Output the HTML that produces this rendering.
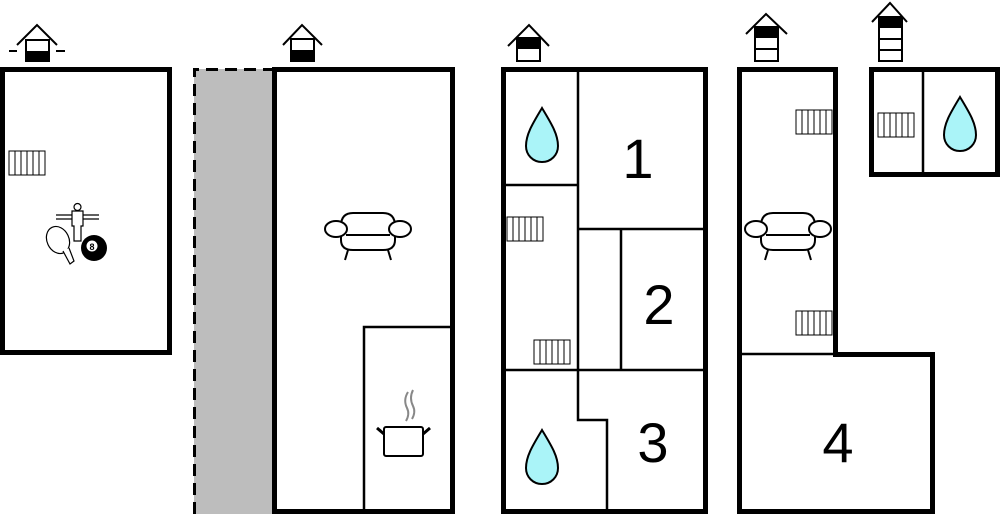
<!DOCTYPE html>
<html><head><style>html,body{margin:0;padding:0;background:#fff}svg{display:block}</style></head><body>
<svg width="1000" height="520" viewBox="0 0 1000 520" xmlns="http://www.w3.org/2000/svg" font-family="Liberation Sans, sans-serif">
<defs>
<g id="rad"><rect x="0" y="0" width="36" height="24" fill="#fff" stroke="#000" stroke-width="1"/><path d="M6 0V24M12 0V24M18 0V24M24 0V24M30 0V24" stroke="#000" stroke-width="1"/></g>
<g id="drop"><path d="M0 -31 C9 -16 16 -5 16 7 C16 16 9 23 0 23 C-9 23 -16 16 -16 7 C-16 -5 -9 -16 0 -31Z" fill="#aaf4f8" stroke="#000" stroke-width="2"/></g>
<g id="sofa" fill="#fff" stroke="#000" stroke-width="2"><path d="M-27 -2 Q-27 -15 -15 -15 H15 Q27 -15 27 -2 V12 Q27 22 15 22 H-15 Q-27 22 -27 12Z"/><line x1="-22" y1="7" x2="22" y2="7"/><ellipse cx="-32" cy="1" rx="11" ry="8"/><ellipse cx="32" cy="1" rx="11" ry="8"/><path d="M-20 22 L-23 32 M20 22 L23 32"/></g>
</defs>
<!-- panel 1 -->
<rect x="2.5" y="69.5" width="167" height="283" fill="none" stroke="#000" stroke-width="5"/>
<use href="#rad" x="9" y="151"/>
<g stroke="#000" fill="#fff" stroke-width="1.2">
<path d="M56 215H99M56 219H99" />
<circle cx="77.5" cy="207" r="3.5"/>
<path d="M72 211H83V226H81V241H74V226H72Z"/>
<ellipse cx="58" cy="240" rx="11" ry="14" transform="rotate(-25 58 240)"/>
<path d="M63 251L70 264L74 261L69 248"/>
</g>
<circle cx="94" cy="248" r="13" fill="#000"/>
<circle cx="92" cy="246" r="5.5" fill="#fff"/>
<text x="92" y="250" font-size="9" font-weight="bold" text-anchor="middle">8</text>
<!-- house icon 1 -->
<g stroke="#000" stroke-width="2" fill="none"><path d="M17 45L37 25L57 45"/><path d="M9 51H17M56 51H65"/></g>
<rect x="26" y="40" width="23" height="21" fill="#fff" stroke="#000" stroke-width="2"/><rect x="26" y="51" width="23" height="11" fill="#000"/>
<!-- gray strip -->
<rect x="194" y="69" width="79" height="445" fill="#bdbdbd"/>
<path d="M194.5 514V69.5H272" fill="none" stroke="#000" stroke-width="3" stroke-dasharray="12,7"/>
<!-- panel 2 -->
<rect x="274.5" y="69.5" width="178" height="442" fill="none" stroke="#000" stroke-width="5"/>
<path d="M364 511V327H452" fill="none" stroke="#000" stroke-width="2.5"/>
<use href="#sofa" x="368" y="228"/>
<g stroke="#888" stroke-width="2" fill="none"><path d="M408 392Q403 400 407 408Q410 414 406 421M413 390Q409 398 413 406Q416 412 412 419"/></g>
<rect x="384" y="427" width="39" height="29" rx="2" fill="#fff" stroke="#000" stroke-width="2"/>
<path d="M384 434L377 428M423 434L430 428" stroke="#000" stroke-width="3"/>
<g stroke="#000" stroke-width="2" fill="none"><path d="M283 45L302 25L322 45"/></g>
<rect x="291" y="39" width="23" height="22" fill="#fff" stroke="#000" stroke-width="2"/><rect x="291" y="50" width="23" height="11" fill="#000"/>
<!-- panel 3 -->
<rect x="503.5" y="69.5" width="202" height="442" fill="none" stroke="#000" stroke-width="5"/>
<g stroke="#000" stroke-width="2.5" fill="none">
<path d="M578 69V420H607V511"/>
<path d="M503 185H578"/>
<path d="M578 229H705"/>
<path d="M621 229V370"/>
<path d="M503 370H705"/>
</g>
<use href="#drop" x="542" y="139"/>
<use href="#drop" x="542" y="461"/>
<use href="#rad" x="507" y="217"/>
<use href="#rad" x="534" y="340"/>
<text x="638" y="178" font-size="56" text-anchor="middle">1</text>
<text x="659" y="324" font-size="56" text-anchor="middle">2</text>
<text x="653" y="462" font-size="56" text-anchor="middle">3</text>
<g stroke="#000" stroke-width="2" fill="none"><path d="M508 46L529 25L549 46"/></g>
<rect x="517" y="38" width="23" height="23" fill="#fff" stroke="#000" stroke-width="2"/><rect x="517" y="38" width="23" height="11" fill="#000"/>
<!-- panel 4 -->
<path d="M739.5 69.5H835.5V354.5H932.5V511.5H739.5Z" fill="none" stroke="#000" stroke-width="5"/>
<path d="M739 354H835" stroke="#000" stroke-width="2.5"/>
<use href="#rad" x="796" y="110"/>
<use href="#rad" x="796" y="311"/>
<use href="#sofa" x="788" y="228"/>
<text x="838" y="462" font-size="56" text-anchor="middle">4</text>
<g stroke="#000" stroke-width="2" fill="none"><path d="M746 34L766 14L787 34"/></g>
<rect x="755" y="27" width="23" height="34" fill="#fff" stroke="#000" stroke-width="2"/><rect x="755" y="27" width="23" height="11" fill="#000"/><path d="M755 49H778" stroke="#000" stroke-width="2"/>
<!-- panel 5 -->
<rect x="871.5" y="69.5" width="126" height="105" fill="none" stroke="#000" stroke-width="5"/>
<path d="M923 69V174" stroke="#000" stroke-width="2.5"/>
<use href="#rad" x="878" y="113"/>
<use href="#drop" x="960" y="128"/>
<g stroke="#000" stroke-width="2" fill="none"><path d="M872 22L890 3L907 22"/></g>
<rect x="879" y="17" width="23" height="44" fill="#fff" stroke="#000" stroke-width="2"/><rect x="879" y="17" width="23" height="11" fill="#000"/><path d="M879 39H902M879 50H902" stroke="#000" stroke-width="2"/>
</svg>
</body></html>
